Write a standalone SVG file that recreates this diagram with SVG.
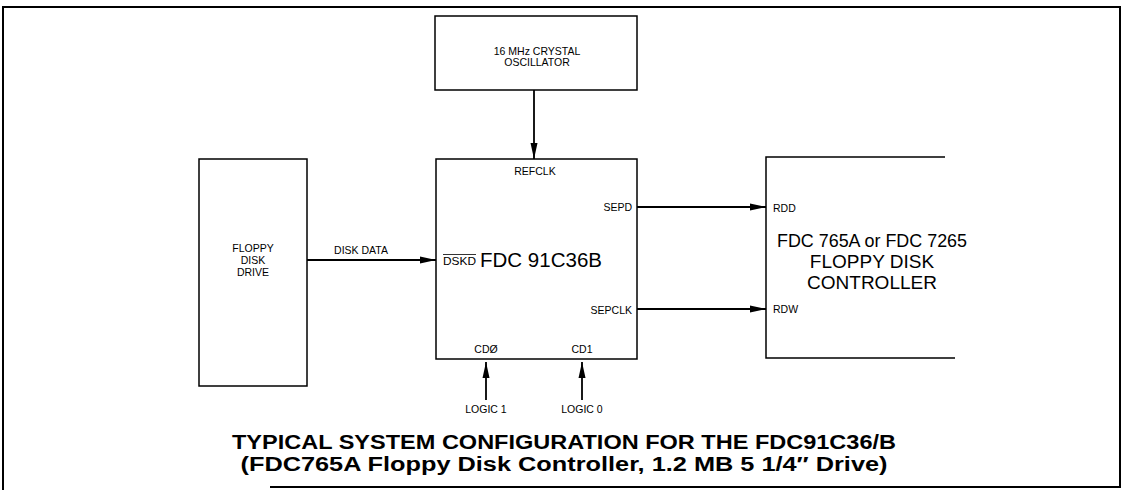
<svg xmlns="http://www.w3.org/2000/svg" width="1128" height="490" viewBox="0 0 1128 490">
<style>
.box{fill:none;stroke:#000;stroke-width:1.5}
.ln{fill:none;stroke:#000;stroke-width:1.8}
.s{font-family:"Liberation Sans",Arial,sans-serif;font-size:10.5px;fill:#000}
.b{font-family:"Liberation Sans",Arial,sans-serif;font-size:20px;fill:#000}
.r{font-family:"Liberation Sans",Arial,sans-serif;font-size:19px;fill:#000}
.t{font-family:"Liberation Sans",Arial,sans-serif;font-size:20px;font-weight:bold;fill:#000}
</style>
<defs>
<marker id="ah" markerWidth="16" markerHeight="8" refX="16" refY="4" orient="auto" markerUnits="userSpaceOnUse">
<path d="M0,0.5 L16,4 L0,7.5 Z" fill="#000"/>
</marker>
</defs>
<rect width="1128" height="490" fill="#fff"/>
<g id="frame">
<path d="M3,490 L3,7 L1120,7 L1120,487 L270,487" fill="none" stroke="#000" stroke-width="2"/>
</g>
<g id="crystal">
<rect class="box" x="435" y="16" width="202" height="74"/>
<text class="s" x="537" y="55" text-anchor="middle">16 MHz CRYSTAL</text>
<text class="s" x="537" y="66" text-anchor="middle">OSCILLATOR</text>
</g>
<g id="drive">
<rect class="box" x="199" y="159" width="108" height="227"/>
<text class="s" x="253" y="252" text-anchor="middle">FLOPPY</text>
<text class="s" x="253" y="264" text-anchor="middle">DISK</text>
<text class="s" x="253" y="276" text-anchor="middle">DRIVE</text>
</g>
<g id="fdc91c36b">
<rect class="box" x="436" y="159" width="201" height="200"/>
<text class="s" x="535" y="175" text-anchor="middle">REFCLK</text>
<text class="s" x="632" y="211" text-anchor="end">SEPD</text>
<text class="s" x="632" y="314" text-anchor="end">SEPCLK</text>
<text class="s" x="443" y="265" textLength="33" lengthAdjust="spacingAndGlyphs">DSKD</text>
<line x1="443" y1="254.5" x2="476" y2="254.5" stroke="#000" stroke-width="0.8"/>
<text class="b" x="480" y="267" textLength="122" lengthAdjust="spacingAndGlyphs">FDC 91C36B</text>
<text class="s" x="486" y="353" text-anchor="middle">CDØ</text>
<text class="s" x="582" y="353" text-anchor="middle">CD1</text>
</g>
<g id="fdc765a">
<path class="box" d="M945,157 L766,157 L766,358 L955,358"/>
<text class="s" x="773" y="212">RDD</text>
<text class="s" x="773" y="313">RDW</text>
<text class="r" x="872" y="247" text-anchor="middle" textLength="190" lengthAdjust="spacingAndGlyphs">FDC 765A or FDC 7265</text>
<text class="r" x="872" y="268" text-anchor="middle">FLOPPY DISK</text>
<text class="r" x="872" y="289" text-anchor="middle">CONTROLLER</text>
</g>
<g id="logic1">
<text class="s" x="486" y="413" text-anchor="middle">LOGIC 1</text>
</g>
<g id="logic0">
<text class="s" x="582" y="413" text-anchor="middle">LOGIC 0</text>
</g>
<g id="connectors">
<line class="ln" x1="534" y1="90" x2="534" y2="159" marker-end="url(#ah)"/>
<line class="ln" x1="307" y1="260" x2="436" y2="260" marker-end="url(#ah)"/>
<text class="s" x="361" y="254" text-anchor="middle">DISK DATA</text>
<line class="ln" x1="637" y1="207" x2="766" y2="207" marker-end="url(#ah)"/>
<line class="ln" x1="637" y1="309" x2="766" y2="309" marker-end="url(#ah)"/>
<line class="ln" x1="486" y1="400" x2="486" y2="362" marker-end="url(#ah)"/>
<line class="ln" x1="582" y1="400" x2="582" y2="362" marker-end="url(#ah)"/>
</g>
<g id="title">
<text class="t" x="564" y="449" text-anchor="middle" textLength="664" lengthAdjust="spacingAndGlyphs">TYPICAL SYSTEM CONFIGURATION FOR THE FDC91C36/B</text>
<text class="t" x="564" y="471" text-anchor="middle" textLength="647" lengthAdjust="spacingAndGlyphs">(FDC765A Floppy Disk Controller, 1.2 MB 5 1/4″ Drive)</text>
</g>
</svg>
